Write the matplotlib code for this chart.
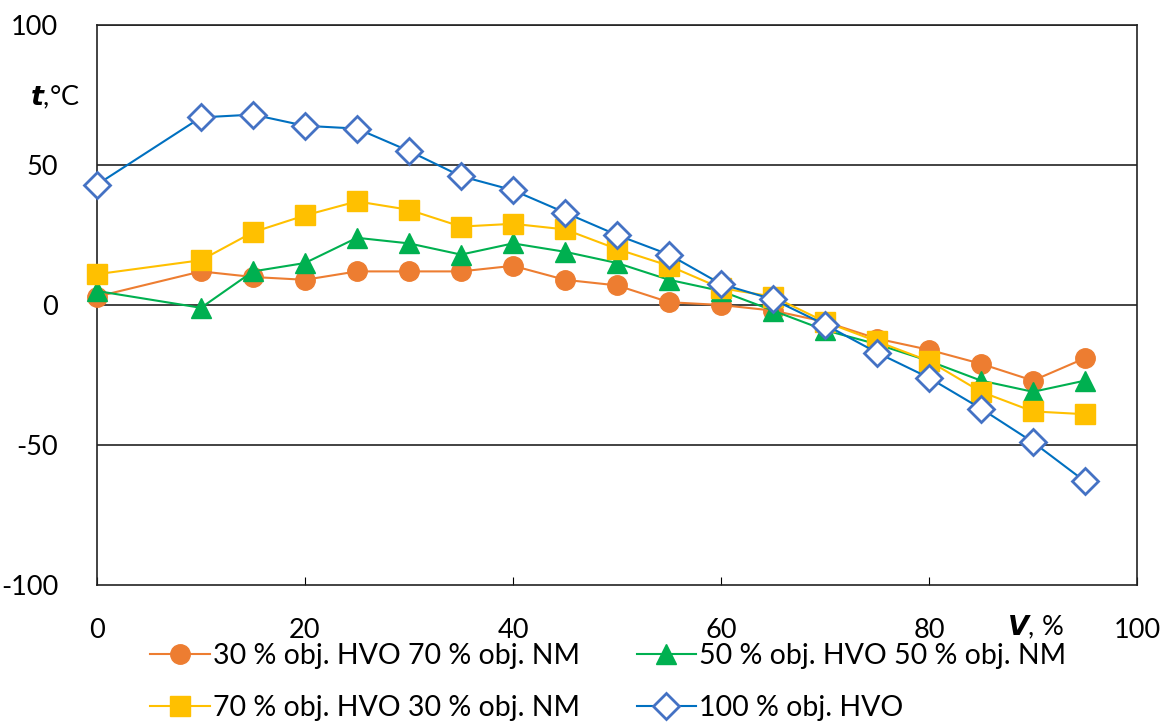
import matplotlib.pyplot as plt

plt.rcParams['font.family'] = ['Lato', 'DejaVu Sans']
plt.rcParams['axes.unicode_minus'] = False

V = [0, 10, 15, 20, 25, 30, 35, 40, 45, 50, 55, 60, 65, 70, 75, 80, 85, 90, 95]
t_30 = [3, 12, 10, 9, 12, 12, 12, 14, 9, 7, 1, 0, -2, -6, -12, -16, -21, -27, -19]
t_50 = [5, -1, 12, 15, 24, 22, 18, 22, 19, 15, 9, 5, -2, -9, -14, -20, -27, -31, -27]
t_70 = [11, 16, 26, 32, 37, 34, 28, 29, 27, 20, 14, 6, 3, -6, -13, -20, -31, -38, -39]
t_100 = [43, 67, 68, 64, 63, 55, 46, 41, 33, 25, 18, 7.5, 2, -7, -17, -26, -37, -49, -63]

labels = ['30 % obj. HVO 70 % obj. NM', '50 % obj. HVO 50 % obj. NM',
          '70 % obj. HVO 30 % obj. NM', '100 % obj. HVO']

fig = plt.figure(figsize=(11.64, 7.22), dpi=100)
ax = fig.add_axes([97 / 1164, 1 - 585 / 722, 1040 / 1164, 560 / 722])

for y in [50, 0, -50, 100]:
    ax.axhline(y, color='#222222', lw=1.2, zorder=1)

l1, = ax.plot(V, t_30, color='#ED7D31', lw=1.5, marker='o', ms=14, mec='#ED7D31', label=labels[0],
              zorder=3, clip_on=False)
l2, = ax.plot(V, t_50, color='#00B050', lw=1.5, marker='^', ms=14, mec='#00B050', label=labels[1],
              zorder=3, clip_on=False)
l3, = ax.plot(V, t_70, color='#FFC000', lw=1.5, marker='s', ms=14, mec='#FFC000', label=labels[2],
              zorder=3, clip_on=False)
l4, = ax.plot(V, t_100, color='#0070C0', lw=1.5, marker='D', ms=13, mfc='white', mec='#4472C4', mew=2,
              label=labels[3], zorder=4, clip_on=False)

ax.set_xlim(0, 100)
ax.set_ylim(-100, 100)
ax.set_xticks([0, 20, 40, 60, 80, 100])
ax.set_yticks([-100, -50, 0, 50, 100])
ax.tick_params(axis='x', direction='in', length=6, labelsize=19.5, pad=24)
ax.tick_params(axis='y', length=0, labelsize=19.5, pad=28)
for s in ax.spines.values():
    s.set_color('#222222')
    s.set_linewidth(1.2)

fig.text(55 / 1164, 1 - 97 / 722, r'$\boldsymbol{t}$,°C', fontsize=19.5, ha='center', va='center')
fig.text(1035 / 1164, 1 - 627 / 722, r'$\boldsymbol{V}$, %', fontsize=19.5, ha='center', va='center')

# matplotlib fills legend columns first, so reorder for row-wise layout
ax.legend([l1, l3, l2, l4], [labels[0], labels[2], labels[1], labels[3]],
          loc='upper left', bbox_to_anchor=(150 / 1164, 1 - 643 / 722), bbox_transform=fig.transFigure,
          ncol=2, frameon=False, fontsize=20.5, handlelength=2.1, handletextpad=0.1, borderpad=0,
          borderaxespad=0, columnspacing=2.0, labelspacing=0.9)

fig.savefig('out.png', dpi=100)
